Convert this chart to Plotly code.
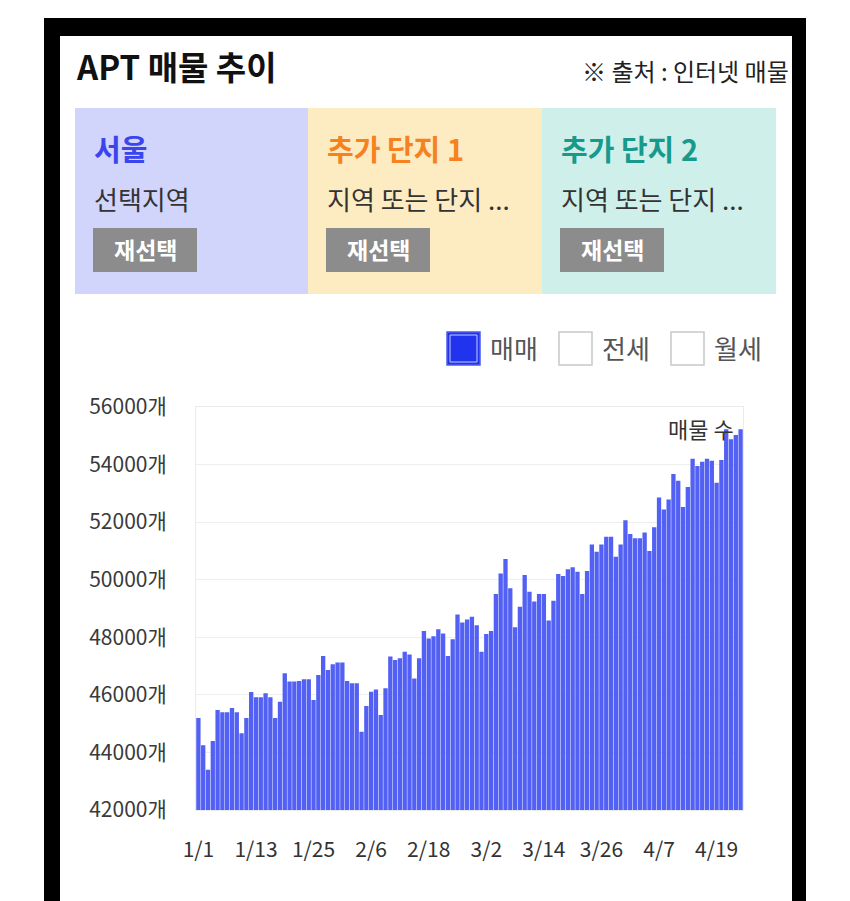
import pandas as pd
import plotly.graph_objects as go

# ---------------- data ----------------
dates = pd.date_range("2021-01-01", "2021-04-24", freq="D").strftime("%Y-%m-%d").tolist()
listings = [
    45200, 44250, 43400, 44400, 45470, 45400, 45400, 45540, 45400, 44670,
    45200, 46100, 45920, 45920, 46060, 45920, 45200, 45760, 46750,
    46460, 46460, 46480, 46540, 46540, 45820, 46690, 47350, 46860, 47060,
    47120, 47120, 46480, 46400, 46400, 44720, 45610, 46110, 46190, 45300,
    46230, 47330, 47210, 47270, 47500, 47400, 46570, 47270, 48220, 47960,
    48040, 48280, 48130, 47350, 47930, 48790, 48510, 48620,
    48710, 48420, 47500, 48110, 48220, 49500, 50220, 50720, 49700, 48350,
    49060, 50160, 49580, 49240, 49500, 49500, 48580, 49270,
    50200, 50130, 50360, 50430, 50280, 49500, 50300, 51220, 50970, 51220,
    51490, 51490, 50800, 51220, 52070, 51590, 51440, 51440, 51640,
    51000, 51820, 52860, 52440, 52790, 53670, 53440, 52530, 53220, 54200,
    53950, 54100, 54200, 54130, 53370, 54160, 55230, 54880, 55030, 55230,
]
tick_dates = ["2021-01-01", "2021-01-13", "2021-01-25", "2021-02-06", "2021-02-18",
              "2021-03-02", "2021-03-14", "2021-03-26", "2021-04-07", "2021-04-19"]
tick_labels = ["1/1", "1/13", "1/25", "2/6", "2/18", "3/2", "3/14", "3/26", "4/7", "4/19"]
y_ticks = [42000, 44000, 46000, 48000, 50000, 52000, 54000, 56000]

title = "APT 매물 추이"
source = "※ 출처 : 인터넷 매물"
panel_titles = ["서울", "추가 단지 1", "추가 단지 2"]
panel_subs = ["선택지역", "지역 또는 단지 ...", "지역 또는 단지 ..."]
legend_items = ["매매", "전세", "월세"]
series_name = "매물 수"

# ---------------- layout helpers ----------------
W, H = 850, 901
L, R, T, B = 196, 743, 407, 810
FONT = "Noto Sans CJK KR, Noto Sans, sans-serif"

def px(x):
    return (x - L) / (R - L)

def py(y):
    return (B - y) / (B - T)

shapes = []
annos = []

def rect(x0, y0, x1, y1, fill, line=None, lw=0, layer="below"):
    shapes.append(dict(type="rect", xref="paper", yref="paper",
                       x0=px(x0), x1=px(x1), y0=py(y1), y1=py(y0),
                       fillcolor=fill, line=dict(color=line or fill, width=lw),
                       layer=layer))

def text(x, y, s, size, color, xanchor="left", bold=False):
    annos.append(dict(xref="paper", yref="paper", x=px(x), y=py(y), text=("<b>%s</b>" % s) if bold else s,
                      showarrow=False, xanchor=xanchor, yanchor="middle",
                      font=dict(size=size, color=color, family=FONT)))

# black frame + white card
rect(44, 18, 806, 905, "#000000")
rect(60, 36, 792, 905, "#ffffff")

text(74, 66, title, 33, "#111111", bold=True)
text(791, 71, source, 24, "#222222", xanchor="right")

panel_fill = ["#d1d4fb", "#fdebc2", "#cfefeb"]
panel_color = ["#3a45ee", "#f5821e", "#179a8c"]
px0 = [75, 308, 542]
pw = 234
for i in range(3):
    rect(px0[i], 108, px0[i] + pw, 294, panel_fill[i])
    text(px0[i] + 17, 148, panel_titles[i], 29, panel_color[i], bold=True)
    text(px0[i] + 17, 198, panel_subs[i], 26, "#333333")
    rect(px0[i] + 18, 228, px0[i] + 122, 272, "#8c8c8c")
    text(px0[i] + 70, 249, "재선택", 23, "#ffffff", xanchor="center", bold=True)

# legend checkboxes
box_x = [447, 559, 671]
for i in range(3):
    if i == 0:
        rect(box_x[i], 332, box_x[i] + 33, 365, "#2233ee", line="#4b5bf2", lw=1.5)
        rect(box_x[i] + 3, 335, box_x[i] + 30, 362, "#2233ee", line="#c9cdfb", lw=1)
    else:
        rect(box_x[i], 332, box_x[i] + 33, 365, "#ffffff", line="#c8c8c8", lw=1.5)
    text(box_x[i] + 41, 347, legend_items[i], 26, "#555555")

text(736, 428, series_name, 22, "#333333", xanchor="right")

fig = go.Figure(go.Bar(
    x=dates, y=listings, marker=dict(color="#5260f4", line=dict(width=0)),
    name=series_name, hoverinfo="x+y"))

fig.update_layout(
    width=W, height=H,
    margin=dict(l=L, r=W - R, t=T, b=H - B, pad=0),
    paper_bgcolor="#ffffff", plot_bgcolor="rgba(0,0,0,0)",
    showlegend=False, bargap=0.1,
    shapes=shapes, annotations=annos,
    font=dict(family=FONT, color="#333333"),
)
fig.update_xaxes(
    range=["2020-12-31 12:00", "2021-04-24 12:00"],
    tickmode="array", tickvals=tick_dates, ticktext=tick_labels,
    tickfont=dict(size=21, color="#333333", family=FONT),
    showgrid=False, showline=True, linecolor="#ebebeb", linewidth=1, mirror=True,
    ticks="", ticklabelstandoff=21, zeroline=False,
)
fig.update_yaxes(
    range=[42000, 56000], tickmode="array", tickvals=y_ticks,
    ticktext=[f"{v}개" for v in y_ticks],
    tickfont=dict(size=21, color="#3a3a3a", family=FONT),
    showgrid=True, gridcolor="#eeeeee", gridwidth=1,
    showline=True, linecolor="#ebebeb", linewidth=1, mirror=True,
    ticks="", ticklabelstandoff=24, zeroline=False,
)

fig.write_html("out.html", config={"displayModeBar": False},
               post_script="document.body.style.margin='0';document.body.style.overflow='hidden';")
